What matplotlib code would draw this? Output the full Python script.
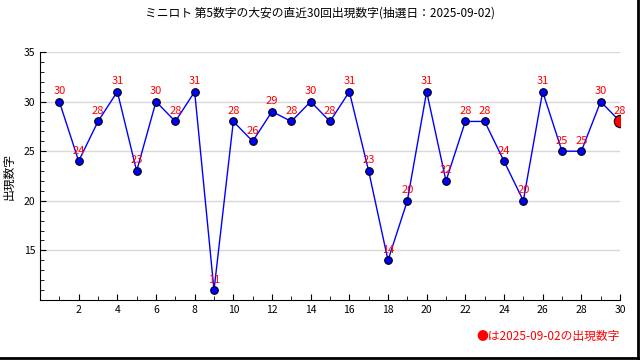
import matplotlib.pyplot as plt
from matplotlib.ticker import MultipleLocator

plt.rcParams['font.family'] = ['Noto Sans CJK JP', 'DejaVu Sans']

draws = list(range(1, 31))
numbers = [30, 24, 28, 31, 23, 30, 28, 31, 11, 28, 26, 29, 28, 30, 28,
           31, 23, 14, 20, 31, 22, 28, 28, 24, 20, 31, 25, 25, 30, 28]
title = 'ミニロト 第5数字の大安の直近30回出現数字(抽選日：2025-09-02)'
note = '●は2025-09-02の出現数字'

fig = plt.figure(figsize=(6.4, 3.6), dpi=100)
ax = fig.add_axes([40 / 640, 60 / 360, 580 / 640, 248 / 360])

ax.plot(draws, numbers, color='blue', lw=1, zorder=2)
ax.scatter(draws[:-1], numbers[:-1], s=30, color='blue', edgecolors='black',
           linewidths=0.8, zorder=3)
ax.scatter(draws[-1:], numbers[-1:], s=80, color='red', edgecolors='black',
           linewidths=0.8, zorder=3)
for x, y in zip(draws, numbers):
    ax.annotate(str(y), (x, y), xytext=(0, 4), textcoords='offset points',
                ha='center', va='bottom', color='red', fontsize=8)

ax.set_xlim(0, 30)
ax.set_ylim(10, 35)
ax.set_xticks(range(2, 31, 2))
ax.xaxis.set_minor_locator(MultipleLocator(1))
ax.set_yticks([15, 20, 25, 30, 35])
ax.yaxis.set_minor_locator(MultipleLocator(1))
ax.tick_params(which='both', direction='in', labelsize=7.5)
ax.tick_params(which='major', length=4)
ax.tick_params(which='minor', length=3)
ax.grid(axis='y', color='#d8d8d8', lw=1)
ax.set_axisbelow(True)
for s in ['top', 'right']:
    ax.spines[s].set_visible(False)
ax.set_ylabel('出現数字', fontsize=8.5, labelpad=6)

fig.text(0.5, 0.965, title, ha='center', va='center', fontsize=8.5)
fig.text(620 / 640, 24 / 360, note, ha='right', va='center', color='red', fontsize=8.5)

# drop-shadow style border at right and bottom
fig.add_artist(plt.Line2D([0.997, 0.997], [0, 1], color='black', lw=2, transform=fig.transFigure))
fig.add_artist(plt.Line2D([0, 1], [0.005, 0.005], color='black', lw=2, transform=fig.transFigure))

fig.savefig('out.png', dpi=100)
